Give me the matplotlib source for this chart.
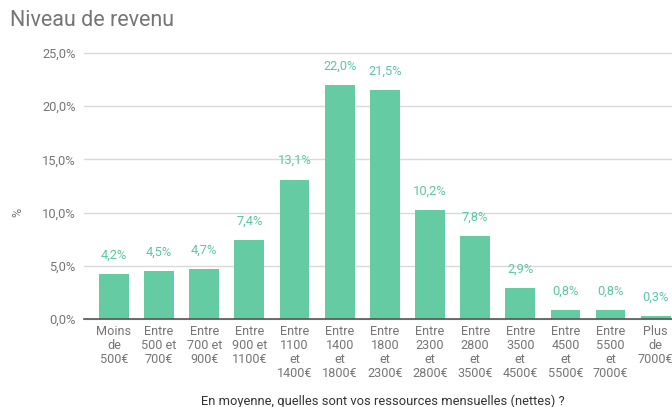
import matplotlib
matplotlib.use("Agg")
import matplotlib.pyplot as plt

categories = ["Moins\nde\n500€", "Entre\n500 et\n700€", "Entre\n700 et\n900€", "Entre\n900 et\n1100€",
              "Entre\n1100\net\n1400€", "Entre\n1400\net\n1800€", "Entre\n1800\net\n2300€",
              "Entre\n2300\net\n2800€", "Entre\n2800\net\n3500€", "Entre\n3500\net\n4500€",
              "Entre\n4500\net\n5500€", "Entre\n5500\net\n7000€", "Plus\nde\n7000€"]
values = [4.2, 4.5, 4.7, 7.4, 13.1, 22.0, 21.5, 10.2, 7.8, 2.9, 0.8, 0.8, 0.3]
yticks = [0, 5, 10, 15, 20, 25]

plt.rcParams['font.family'] = ['Roboto', 'DejaVu Sans']
GREEN = '#64CBA2'
LABEL_GREEN = '#5CC79E'
GRAY = '#757575'

fig = plt.figure(figsize=(6.72, 4.07), dpi=100)
ax = fig.add_axes([84/672, 88/407, (672-84)/672, (319-53)/407])
x = list(range(len(values)))
ax.bar(x, values, width=0.66, color=GREEN, zorder=3)
for xi, v in zip(x, values):
    ax.annotate(f"{v:.1f}".replace('.', ',') + "%", (xi, v), xytext=(0, 9), textcoords='offset points',
                ha='center', va='bottom', color=LABEL_GREEN, fontsize=9.3)
ax.set_xlim(-0.662, 12.36)
ax.set_ylim(0, 25)
ax.set_yticks(yticks)
ax.set_yticklabels([f"{t:.1f}".replace('.', ',') + "%" for t in yticks], color=GRAY, fontsize=9.3)
ax.set_xticks(x)
ax.set_xticklabels(categories, color=GRAY, fontsize=9.1, linespacing=1.12)
ax.tick_params(axis='both', length=0)
ax.tick_params(axis='y', pad=6)
ax.tick_params(axis='x', pad=4)
ax.grid(axis='y', color='#d9d9d9', linewidth=1, zorder=0)
ax.set_axisbelow(True)
for s in ['top', 'right', 'left']:
    ax.spines[s].set_visible(False)
ax.spines['bottom'].set_color('#555555')
ax.spines['bottom'].set_linewidth(1.2)
ax.spines['bottom'].set_zorder(4)
for gl in ax.get_ygridlines():
    gl.set_clip_on(False)

fig.text(10/672, 1 - 21/407, "Niveau de revenu", fontsize=15.5, color=GRAY, va='center', ha='left')
fig.text(18/672, 1 - 212/407, "%", fontsize=9, color=GRAY, rotation=90, va='center', ha='center')
fig.text(383/672, 1 - 401/407, "En moyenne, quelles sont vos ressources mensuelles (nettes) ?",
         fontsize=9.3, color='#333333', va='center', ha='center')

fig.savefig("out.png", dpi=100)
